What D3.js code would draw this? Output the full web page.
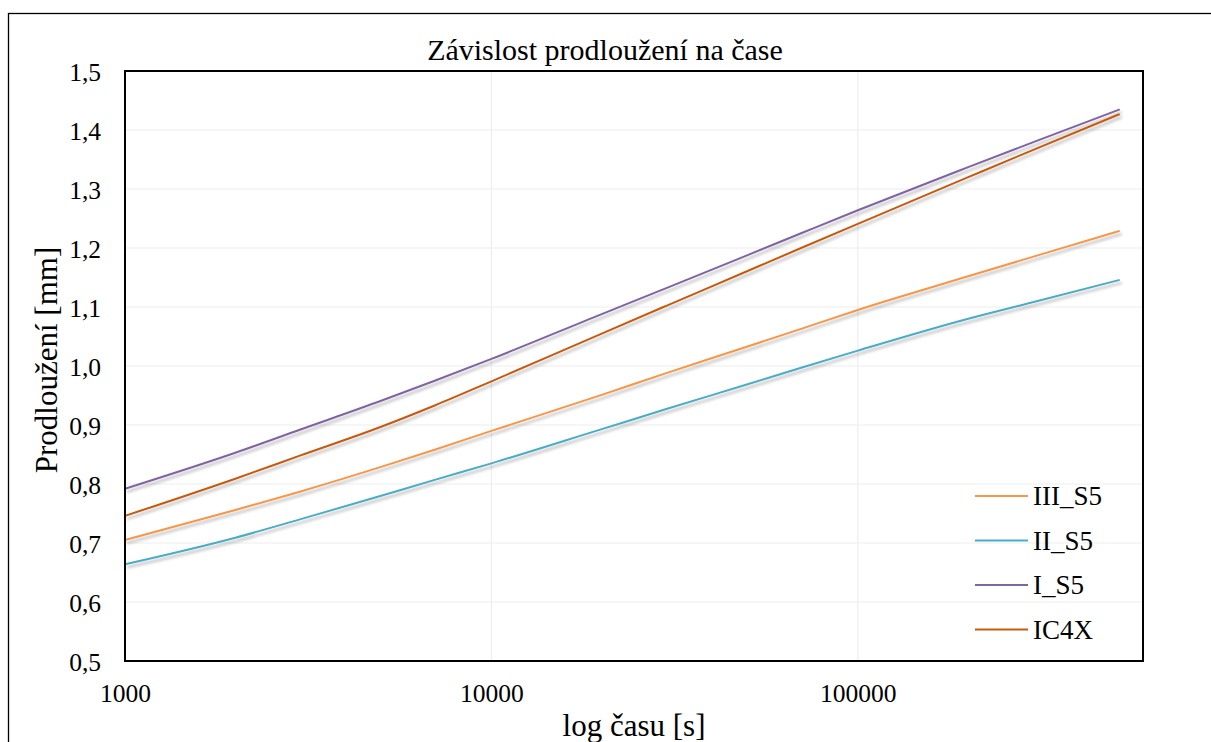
<!DOCTYPE html>
<html>
<head>
<meta charset="utf-8">
<script src="https://cdn.jsdelivr.net/npm/d3@7"></script>
<style>
  html, body { margin: 0; padding: 0; background: #fff; }
  svg { display: block; }
  text { font-family: "Liberation Serif", "Times New Roman", serif; fill: #000; }
</style>
</head>
<body>
<svg id="chart" width="1211" height="742"></svg>
<script>
// ---- data ----
const times = [1000, 2000, 3000, 5000, 7000, 10000, 20000, 30000, 50000, 70000, 100000, 200000, 300000, 518400];
const seriesNames = ["III_S5", "II_S5", "I_S5", "IC4X"];
const seriesColors = ["#F79646", "#4BACC6", "#8064A2", "#C55A11"];
const III_S5 = [0.705, 0.756, 0.787, 0.829, 0.858, 0.890, 0.951, 0.988, 1.033, 1.063, 1.095, 1.152, 1.185, 1.229];
const II_S5  = [0.664, 0.709, 0.740, 0.780, 0.807, 0.835, 0.893, 0.927, 0.969, 0.997, 1.026, 1.080, 1.108, 1.146];
const I_S5   = [0.792, 0.853, 0.892, 0.941, 0.975, 1.012, 1.088, 1.132, 1.188, 1.225, 1.264, 1.337, 1.379, 1.435];
const IC4X   = [0.746, 0.809, 0.848, 0.897, 0.933, 0.974, 1.055, 1.102, 1.161, 1.200, 1.241, 1.320, 1.366, 1.427];
const seriesValues = [III_S5, II_S5, I_S5, IC4X];
const xTickValues = [1000, 10000, 100000];
const yTickValues = [0.5, 0.6, 0.7, 0.8, 0.9, 1.0, 1.1, 1.2, 1.3, 1.4, 1.5];
const title = "Závislost prodloužení na čase";
const xTitle = "log času [s]";
const yTitle = "Prodloužení [mm]";

// ---- layout ----
const svg = d3.select("#chart");
const plot = { left: 125, top: 71, right: 1143, bottom: 661 };

const x = d3.scaleLog().domain([1000, 600000]).range([plot.left, plot.right]);
const y = d3.scaleLinear().domain([0.5, 1.5]).range([plot.bottom, plot.top]);

// shadow filter
const defs = svg.append("defs");
const f = defs.append("filter").attr("id", "shadow").attr("x", "-5%").attr("y", "-20%").attr("width", "110%").attr("height", "140%");
f.append("feGaussianBlur").attr("in", "SourceAlpha").attr("stdDeviation", 1.6).attr("result", "blur");
f.append("feOffset").attr("in", "blur").attr("dx", 2).attr("dy", 3).attr("result", "off");
f.append("feComponentTransfer").attr("in", "off").attr("result", "offa")
  .append("feFuncA").attr("type", "linear").attr("slope", 0.28);
const fm = f.append("feMerge");
fm.append("feMergeNode").attr("in", "offa");
fm.append("feMergeNode").attr("in", "SourceGraphic");

// outer chart border
svg.append("rect")
  .attr("x", 8.5).attr("y", 13.5).attr("width", 1220).attr("height", 760)
  .attr("fill", "none").attr("stroke", "#000").attr("stroke-width", 1.3);

// gridlines
svg.append("g").selectAll("line.h").data(yTickValues.slice(1, -1)).join("line")
  .attr("x1", plot.left).attr("x2", plot.right)
  .attr("y1", d => y(d)).attr("y2", d => y(d))
  .attr("stroke", "#EDEDED").attr("stroke-width", 1.2);
svg.append("g").selectAll("line.v").data(xTickValues.slice(1)).join("line")
  .attr("y1", plot.top).attr("y2", plot.bottom)
  .attr("x1", d => x(d)).attr("x2", d => x(d))
  .attr("stroke", "#EDEDED").attr("stroke-width", 1.2);

// axes (labels only)
const fmtY = v => d3.format(".1f")(v).replace(".", ",");
const yAxis = svg.append("g").attr("transform", `translate(${plot.left},0)`)
  .call(d3.axisLeft(y).tickValues(yTickValues).tickFormat(fmtY).tickSize(0).tickPadding(24));
yAxis.select(".domain").remove();
yAxis.selectAll("text").attr("font-size", 25.5).attr("dy", "0.38em")
  .style("font-family", '"Liberation Serif", serif');

const xAxis = svg.append("g").attr("transform", `translate(0,${plot.bottom})`)
  .call(d3.axisBottom(x).tickValues(xTickValues).tickFormat(d3.format("d")).tickSize(0).tickPadding(23));
xAxis.select(".domain").remove();
xAxis.selectAll("text").attr("font-size", 25.5).attr("dy", "0.71em")
  .style("font-family", '"Liberation Serif", serif');

// series lines
const line = d3.line().x(d => x(d[0])).y(d => y(d[1])).curve(d3.curveMonotoneX);
svg.append("g").attr("filter", "url(#shadow)")
  .selectAll("path").data(seriesValues).join("path")
  .attr("d", vals => line(times.map((t, i) => [t, vals[i]])))
  .attr("fill", "none")
  .attr("stroke", (d, i) => seriesColors[i])
  .attr("stroke-width", 2)
  .attr("stroke-linejoin", "round");

// plot border
svg.append("rect")
  .attr("x", plot.left).attr("y", plot.top)
  .attr("width", plot.right - plot.left).attr("height", plot.bottom - plot.top)
  .attr("fill", "none").attr("stroke", "#000").attr("stroke-width", 2);

// title
svg.append("rect").attr("x", 418).attr("y", 36).attr("width", 375).attr("height", 34).attr("fill", "#fff");
svg.append("text").attr("x", 605).attr("y", 60).attr("text-anchor", "middle")
  .attr("font-size", 30).text(title);

// axis titles
svg.append("text").attr("x", 634).attr("y", 736).attr("text-anchor", "middle")
  .attr("font-size", 31).text(xTitle);
svg.append("text").attr("transform", "translate(57,360) rotate(-90)").attr("text-anchor", "middle")
  .attr("font-size", 31).text(yTitle);

// legend
const legend = svg.append("g").attr("transform", "translate(975,496)");
const items = legend.selectAll("g").data(seriesNames).join("g")
  .attr("transform", (d, i) => `translate(0,${i * 44.5})`);
items.append("line").attr("x1", 0).attr("x2", 53).attr("y1", 0).attr("y2", 0)
  .attr("stroke", (d, i) => seriesColors[i]).attr("stroke-width", 2);
items.append("text").attr("x", 58).attr("y", 0).attr("dy", "0.35em")
  .attr("font-size", 27).text(d => d);
</script>
</body>
</html>
